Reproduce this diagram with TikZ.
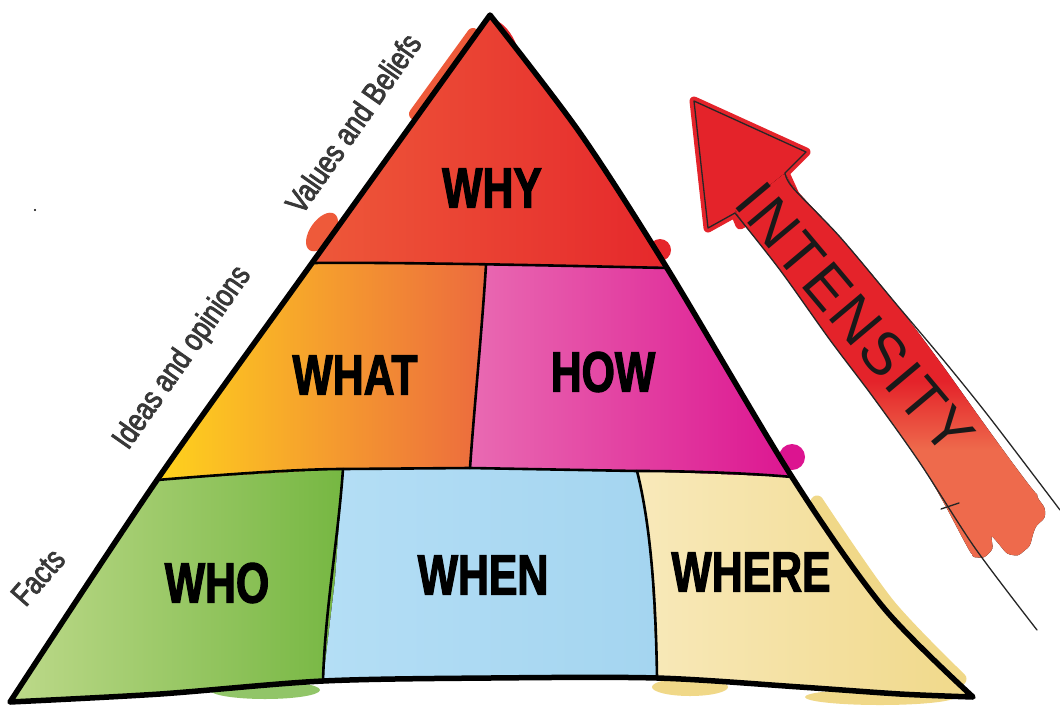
\documentclass[tikz,border=0pt]{standalone}
\usepackage{fontspec}
\newfontfamily\BigLbl[FakeStretch=0.75,BoldFeatures={FakeBold=2}]{Liberation Sans}
\newfontfamily\SideLbl[FakeStretch=0.8,FakeBold=2.5]{Liberation Sans}
\newfontfamily\HandLbl[LetterSpace=4]{Liberation Sans}
\definecolor{whyL}{HTML}{EE5A3A}
\definecolor{whyR}{HTML}{E5262B}
\definecolor{whatL}{HTML}{FFD51C}
\definecolor{whatM}{HTML}{F5A03A}
\definecolor{whatR}{HTML}{EC6A3E}
\definecolor{howL}{HTML}{E96AB2}
\definecolor{howR}{HTML}{DC1490}
\definecolor{whoL}{HTML}{BFDA8C}
\definecolor{whoR}{HTML}{76B742}
\definecolor{whenL}{HTML}{B4DEF5}
\definecolor{whenR}{HTML}{A4D5F0}
\definecolor{whereL}{HTML}{F8E9BA}
\definecolor{whereR}{HTML}{F0D888}
\definecolor{arrred}{HTML}{E4232A}
\definecolor{arrorange}{HTML}{EE6A4C}
\definecolor{sidegray}{HTML}{383838}
\pgfdeclareverticalshading{ArrowShade}{100bp}{color(0bp)=(arrorange); color(39bp)=(arrorange); color(48bp)=(arrred); color(100bp)=(arrred)}
\newcommand\PyrOutline{plot[smooth,tension=0.5] coordinates {(10,702) (157,480) (312,263) (490,15)} -- plot[smooth,tension=0.5] coordinates {(490,15) (580,133) (667,268) (792,477) (883,607) (973,697)} -- plot[smooth,tension=0.5] coordinates {(973,697) (900,694) (800,687) (657,678) (490,678) (323,681) (160,694) (10,702)} -- cycle}
\begin{document}
\begin{tikzpicture}[x=1pt,y=-1pt,
  biglbl/.style={font=\BigLbl\bfseries\fontsize{57}{57}\selectfont, text=black, inner sep=0pt},
  sidelbl/.style={font=\SideLbl\fontsize{32}{32}\selectfont, text=sidegray, inner sep=0pt},
  handlbl/.style={font=\HandLbl\fontsize{60}{60}\selectfont, text=black!90, inner sep=0pt},
  outline/.style={line width=5.5pt, line join=round, line cap=round},
  innerline/.style={line width=2.6pt, line cap=round},
  thinline/.style={line width=1.3pt, black!85, line cap=round, line join=round}]
\useasboundingbox (0,0) rectangle (1060,718);
\fill[white] (0,0) rectangle (1060,718);

% ---- watercolour spills outside the outline ----
\fill[whyL] (322,232) ellipse [x radius=12, y radius=22, rotate=-35];
\draw[whyL, line width=12pt, line cap=round] (473,34) -- (415,114);
\fill[whyR] (504,42) ellipse [x radius=10, y radius=24, rotate=30];
\fill[whyR] (660,250) circle (11);
\fill[howR] (792,457) circle (13);
\fill[whoR!80] (265,690) ellipse [x radius=55, y radius=9];
\fill[whereR] (690,687) ellipse [x radius=38, y radius=9];
\fill[whereR] (880,697) ellipse [x radius=75, y radius=8];
\draw[whereR, line width=13pt, line cap=round, shift={(5,-3)}] plot[smooth] coordinates {(812,505) (883,607) (955,682)};

% ---- coloured regions ----
\begin{scope}
\clip \PyrOutline;
\fill[left color=whyL, right color=whyR] (300,5) -- (680,5) -- (680,268) -- (486,265) -- (300,263) -- cycle;
\fill[left color=whatL, middle color=whatM, right color=whatR] (150,263) -- (312,263) -- (486,265) -- (478,370) -- (470,468) -- (343,469) -- (150,482) -- cycle;
\fill[left color=howL, right color=howR] (486,265) -- (800,268) -- (800,478) -- (637,471) -- (470,468) -- (478,370) -- cycle;
\fill[left color=whoL, right color=whoR] (0,478) -- (157,480) -- (343,469) -- (335,580) -- (323,681) -- (0,710) -- cycle;
\fill[left color=whenL, right color=whenR] (343,469) -- (470,468) -- (637,471) -- (650,540) -- (657,678) -- (657,718) -- (323,718) -- (323,681) -- (335,580) -- cycle;
\fill[left color=whereL, right color=whereR] (637,471) -- (792,477) -- (980,477) -- (980,718) -- (657,718) -- (657,678) -- (650,540) -- cycle;
\end{scope}

% ---- named points of the pyramid ----
\coordinate (apex) at (490,15);
\coordinate (l1) at (312,263);
\coordinate (r1) at (667,268);
\coordinate (m1) at (486,265);
\coordinate (l2) at (157,480);
\coordinate (r2) at (792,477);
\coordinate (m2) at (470,468);
\coordinate (t1) at (343,469);
\coordinate (t2) at (637,471);
\coordinate (b1) at (323,681);
\coordinate (b2) at (657,678);

% ---- inner lines ----
\draw[innerline] (l1) .. controls (400,262) and (580,266) .. (r1);
\draw[innerline] (m1) .. controls (482,330) and (474,410) .. (m2);
\draw[innerline] (l2) .. controls (230,474) and (300,469) .. (t1) -- (m2) -- (t2) .. controls (700,471) and (760,474) .. (r2);
\draw[innerline] (t1) .. controls (338,540) and (325,610) .. (b1);
\draw[innerline] (t2) .. controls (652,530) and (656,610) .. (b2);

% ---- outline ----
\draw[outline] \PyrOutline;

% ---- labels ----
\node[biglbl] (why) at (492,188) {WHY};
\node[biglbl] (what) at (355,375) {WHAT};
\node[biglbl] (how) at (603,372) {HOW};
\node[biglbl] (who) at (217,583) {WHO};
\node[biglbl] (when) at (483,575) {WHEN};
\node[biglbl] (where) at (751,572) {WHERE};

\node[sidelbl, rotate=55] (values) at (353,123) {Values and Beliefs};
\node[sidelbl, rotate=55] (ideas) at (183,358) {Ideas and opinions};
\node[sidelbl, rotate=49] (facts) at (38,577) {Facts};

\fill[black] (35,210) circle (1.1);

% ---- intensity arrow ----
\coordinate (tip) at (694,101);
\coordinate (rw) at (806,152);
\coordinate (rn) at (785,173);
\coordinate (lw) at (708,228);
\coordinate (ln) at (735,213);
\draw[arrred, line width=9pt, line join=round, fill=arrred] (tip) -- (rw) -- (rn) -- (795,195) -- (740,225) -- (ln) -- (lw) -- cycle;
\fill[shading=ArrowShade, rounded corners=3pt] (rn) -- plot[smooth] coordinates {(793,188) (840,237) (897,305) (940,362) (985,425) (1037,497)} -- (1045,508) -- (1045,518) -- (1036,526) -- (1033,534) -- (1030,546) -- (1018,556) -- (1007,554) -- (998,543) -- (991,535) -- (993,549) -- (984,558) -- (972,557) -- plot[smooth] coordinates {(972,557) (945,505) (920,463) (873,397) (830,340) (780,270) (735,213)} -- cycle;
\draw[thinline] (rn) -- (rw) -- (tip) -- (lw) -- (ln);
\draw[thinline] plot[smooth] coordinates {(735,213) (780,270) (830,340) (873,397) (920,463) (975,548) (1037,630)};
\draw[thinline] plot[smooth] coordinates {(785,173) (793,188) (840,237) (897,305) (945,362) (990,418) (1060,510)};
\draw[thinline] (941,509) -- (959,503);
\node[handlbl, rotate=-50] (intensity) at (855,319) {INTENSITY};
\end{tikzpicture}
\end{document}
